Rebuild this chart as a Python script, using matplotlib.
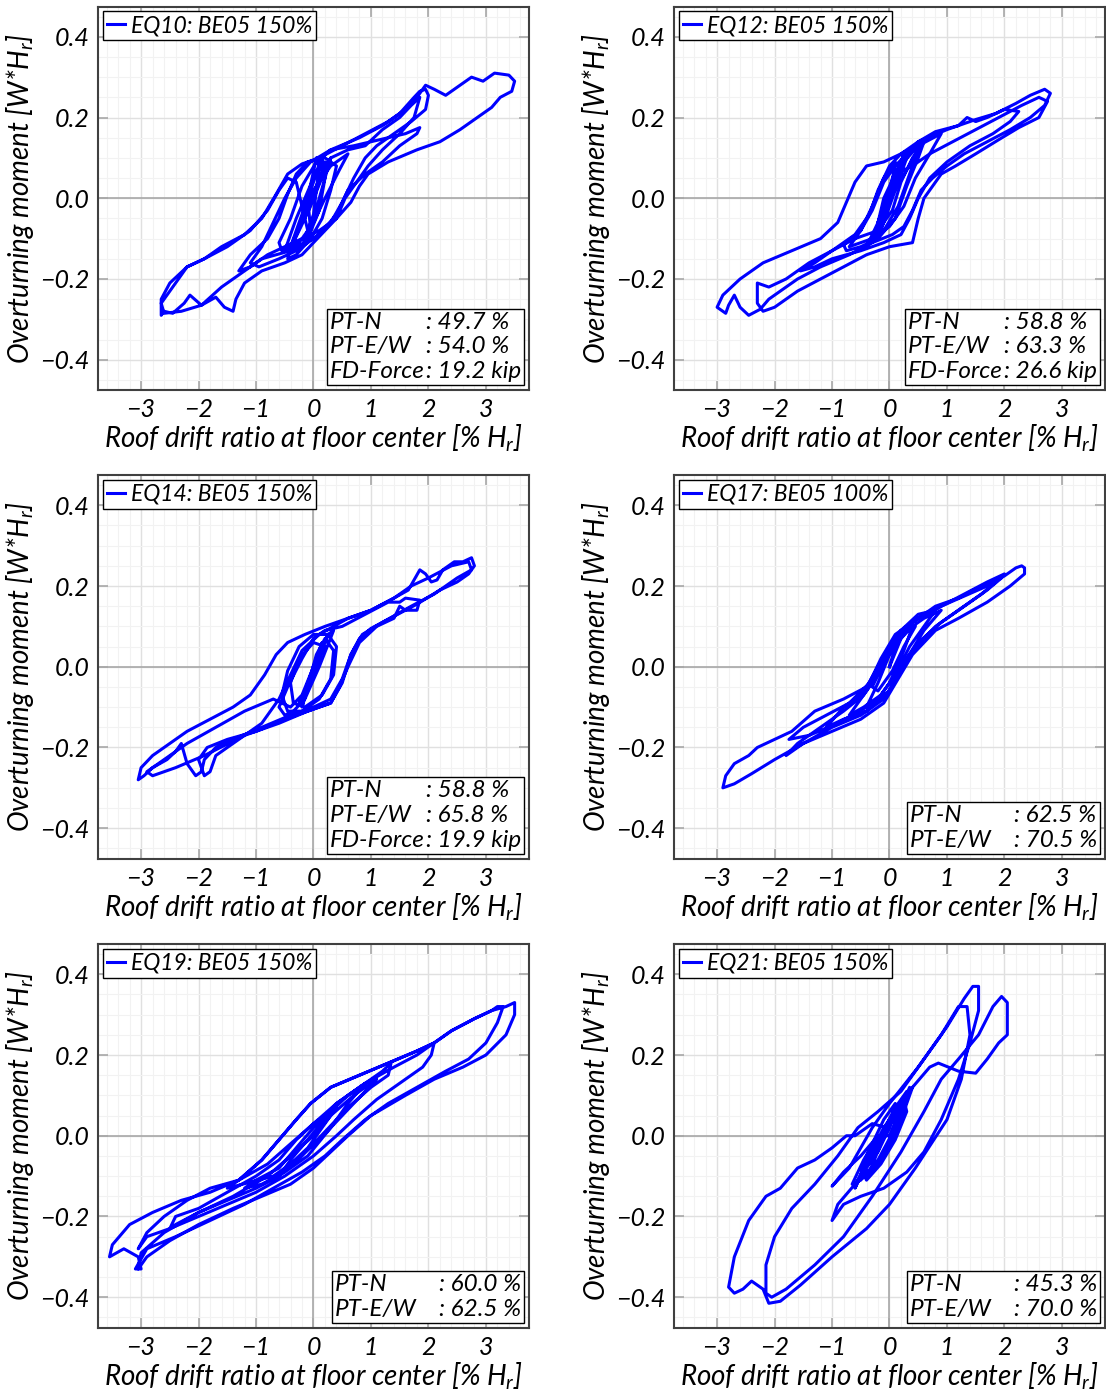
import matplotlib
matplotlib.use("Agg")
import matplotlib.pyplot as plt
from matplotlib.offsetbox import AnchoredOffsetbox, HPacker, TextArea
from matplotlib.ticker import FuncFormatter, MultipleLocator

# --- data (drift ratio [% Hr], moment [W*Hr]) ---
EQ10_LOOP = [
    (0.00, 0.00), (0.15, 0.06), (0.25, 0.09), (0.10, 0.05), (-0.10, -0.03), (-0.30, -0.09),
    (-0.20, -0.06), (0.05, 0.03), (0.30, 0.10), (0.20, 0.07), (-0.05, -0.02), (-0.35, -0.11),
    (-0.45, -0.13), (-0.30, -0.09), (0.00, 0.02), (0.30, 0.08), (0.60, 0.11), (0.45, 0.07),
    (0.20, 0.00), (0.00, -0.06), (-0.25, -0.11), (-0.55, -0.13), (-0.60, -0.11), (-0.40, -0.05),
    (-0.20, 0.03), (0.05, 0.09), (0.30, 0.12), (0.70, 0.13), (1.00, 0.14), (1.30, 0.15),
    (1.60, 0.16), (1.85, 0.175), (1.80, 0.16), (1.50, 0.13), (1.20, 0.09), (0.90, 0.06),
    (0.60, 0.02), (0.40, -0.04), (0.10, -0.09), (-0.30, -0.13), (-0.60, -0.15), (-0.95, -0.17),
    (-1.10, -0.16), (-0.90, -0.12), (-0.70, -0.06), (-0.50, 0.00), (-0.30, 0.05), (-0.05, 0.09),
    (0.30, 0.12), (0.80, 0.15), (1.20, 0.18), (1.50, 0.21), (1.75, 0.25), (1.85, 0.265),
    (1.95, 0.27), (2.00, 0.255), (1.95, 0.22), (1.70, 0.19), (1.40, 0.16), (1.10, 0.13),
    (0.90, 0.10), (0.70, 0.05), (0.50, -0.01), (0.30, -0.06), (0.00, -0.10), (-0.40, -0.13),
    (-0.90, -0.15), (-1.30, -0.19), (-1.60, -0.22), (-1.95, -0.265), (-2.30, -0.28), (-2.60, -0.285),
    (-2.65, -0.26), (-2.45, -0.22), (-2.20, -0.17), (-1.90, -0.15), (-1.60, -0.12), (-1.20, -0.09),
    (-0.90, -0.05), (-0.65, 0.01), (-0.45, 0.06), (-0.20, 0.085), (0.10, 0.10), (0.50, 0.13),
    (0.90, 0.16), (1.30, 0.19), (1.60, 0.22), (1.80, 0.25), (1.95, 0.28), (2.10, 0.27),
    (2.30, 0.255), (2.55, 0.28), (2.75, 0.30), (2.95, 0.29), (3.15, 0.31), (3.40, 0.305),
    (3.50, 0.29), (3.45, 0.265), (3.25, 0.25), (3.10, 0.225), (2.85, 0.20), (2.55, 0.17),
    (2.20, 0.14), (1.80, 0.12), (1.30, 0.09), (0.95, 0.06), (0.80, 0.03), (0.65, -0.01),
    (0.40, -0.05), (0.20, -0.08), (0.00, -0.11), (-0.20, -0.14), (-0.50, -0.16), (-0.90, -0.18),
    (-1.20, -0.21), (-1.35, -0.25), (-1.40, -0.28), (-1.55, -0.27), (-1.70, -0.245), (-1.95, -0.265),
    (-2.15, -0.24), (-2.25, -0.26), (-2.45, -0.285), (-2.60, -0.28), (-2.65, -0.29), (-2.65, -0.25),
    (-2.50, -0.21), (-2.20, -0.17), (-1.90, -0.15), (-1.50, -0.12), (-1.10, -0.08), (-0.80, -0.03),
    (-0.60, 0.02), (-0.45, 0.05), (-0.30, 0.04), (-0.20, -0.02), (-0.10, -0.08), (0.00, -0.10),
    (-0.30, -0.12), (-0.50, -0.13), (-0.30, -0.05), (0.00, 0.05), (0.15, 0.10), (0.20, 0.05),
    (0.10, -0.03), (-0.10, -0.10), (-0.20, -0.12), (0.00, -0.04), (0.10, 0.08), (0.05, 0.10),
    (-0.10, 0.00), (-0.05, -0.08), (0.10, 0.00), (0.30, 0.10), (0.60, 0.12), (0.90, 0.13),
    (1.20, 0.17), (1.50, 0.20), (1.70, 0.23), (1.85, 0.25), (1.75, 0.20), (1.50, 0.16),
    (1.20, 0.12), (0.95, 0.08), (0.75, 0.04), (0.55, 0.00), (0.40, -0.05), (0.10, -0.08),
    (-0.20, -0.10), (-0.50, -0.12), (-0.80, -0.14), (-1.10, -0.17), (-1.30, -0.18), (-1.10, -0.14),
    (-0.80, -0.10), (-0.60, -0.05), (-0.45, 0.01), (-0.30, 0.06), (-0.10, 0.09), (0.20, 0.10),
    (0.40, 0.08), (0.30, 0.02), (0.15, -0.05), (-0.05, -0.10), (-0.30, -0.14), (-0.45, -0.15),
    (-0.35, -0.10), (-0.15, -0.02), (0.05, 0.06), (0.20, 0.09), (0.00, 0.00),
]

EQ12_LOOP = [
    (0.00, 0.00), (0.10, 0.05), (0.05, 0.02), (-0.10, -0.05), (-0.20, -0.10), (-0.10, -0.06),
    (0.10, 0.04), (0.20, 0.08), (0.30, 0.10), (0.15, 0.04), (-0.10, -0.06), (-0.30, -0.11),
    (-0.20, -0.07), (0.00, 0.02), (0.20, 0.09), (0.40, 0.12), (0.60, 0.14), (0.50, 0.10),
    (0.30, 0.03), (0.10, -0.05), (-0.20, -0.10), (-0.50, -0.12), (-0.75, -0.13), (-0.80, -0.115),
    (-0.50, -0.08), (-0.30, -0.03), (-0.10, 0.04), (0.10, 0.08), (0.50, 0.14), (1.00, 0.17),
    (1.20, 0.18), (1.35, 0.20), (1.50, 0.19), (1.70, 0.20), (1.85, 0.21), (2.00, 0.22),
    (2.25, 0.215), (2.10, 0.19), (1.80, 0.16), (1.40, 0.13), (1.00, 0.09), (0.70, 0.05),
    (0.50, 0.00), (0.35, -0.05), (0.20, -0.09), (-0.10, -0.11), (-0.50, -0.13), (-1.00, -0.15),
    (-1.30, -0.17), (-1.55, -0.18), (-1.30, -0.16), (-0.90, -0.12), (-0.60, -0.09), (-0.35, -0.04),
    (-0.20, 0.02), (0.00, 0.08), (0.20, 0.11), (0.50, 0.14), (0.80, 0.165), (1.20, 0.18),
    (1.50, 0.195), (1.85, 0.21), (2.20, 0.235), (2.45, 0.255), (2.70, 0.27), (2.80, 0.26),
    (2.70, 0.23), (2.45, 0.20), (2.10, 0.17), (1.70, 0.14), (1.30, 0.11), (1.00, 0.08),
    (0.75, 0.05), (0.55, 0.02), (0.40, -0.03), (0.25, -0.07), (0.05, -0.09), (-0.30, -0.11),
    (-0.70, -0.14), (-1.20, -0.17), (-1.60, -0.20), (-1.90, -0.23), (-2.10, -0.25), (-2.25, -0.275),
    (-2.45, -0.29), (-2.60, -0.27), (-2.70, -0.24), (-2.80, -0.265), (-2.85, -0.285), (-3.00, -0.27),
    (-2.90, -0.24), (-2.60, -0.20), (-2.20, -0.16), (-1.70, -0.13), (-1.20, -0.10), (-0.90, -0.06),
    (-0.75, -0.01), (-0.60, 0.04), (-0.40, 0.08), (-0.10, 0.09), (0.20, 0.11), (0.60, 0.14),
    (0.40, 0.10), (0.20, 0.04), (0.05, -0.03), (-0.20, -0.08), (-0.60, -0.10), (-1.00, -0.13),
    (-1.40, -0.16), (-1.80, -0.20), (-2.10, -0.22), (-2.30, -0.21), (-2.30, -0.26), (-2.20, -0.28),
    (-2.00, -0.27), (-1.60, -0.23), (-1.20, -0.20), (-0.80, -0.17), (-0.40, -0.14), (0.00, -0.12),
    (0.40, -0.11), (0.50, -0.05), (0.60, 0.00), (0.75, 0.03), (0.90, 0.06), (1.15, 0.08),
    (1.50, 0.11), (1.90, 0.145), (2.25, 0.175), (2.60, 0.20), (2.75, 0.24), (2.60, 0.25),
    (2.30, 0.23), (1.90, 0.20), (1.50, 0.17), (1.10, 0.14), (0.70, 0.11), (0.40, 0.08),
    (0.10, 0.06), (-0.10, 0.00), (-0.20, -0.06), (-0.05, 0.00), (0.15, 0.07), (0.25, 0.11),
    (0.10, 0.03), (-0.15, -0.07), (-0.05, -0.02), (0.20, 0.09), (0.05, 0.05), (-0.10, -0.04),
    (0.00, 0.00), (0.30, 0.07), (0.50, 0.12), (0.35, 0.06), (0.15, -0.02), (-0.10, -0.08),
    (-0.40, -0.12), (-0.20, -0.06), (0.00, 0.02), (0.25, 0.09), (0.50, 0.13), (0.90, 0.16),
    (0.70, 0.11), (0.45, 0.05), (0.25, -0.02), (0.00, -0.07), (-0.30, -0.10), (-0.70, -0.12),
    (-0.50, -0.08), (-0.30, -0.02), (-0.10, 0.05), (0.10, 0.09), (0.00, 0.00),
]

EQ14_LOOP = [
    (0.00, 0.00), (0.15, 0.05), (0.25, 0.08), (0.10, 0.02), (-0.10, -0.05), (-0.25, -0.09),
    (-0.15, -0.06), (0.05, 0.02), (0.25, 0.08), (0.35, 0.09), (0.10, 0.00), (-0.15, -0.08),
    (-0.35, -0.11), (-0.50, -0.12), (-0.60, -0.10), (-0.45, -0.05), (-0.20, 0.02), (0.00, 0.07),
    (0.20, 0.09), (0.50, 0.10), (0.90, 0.13), (1.30, 0.16), (1.50, 0.16), (1.60, 0.17),
    (1.85, 0.165), (1.80, 0.14), (1.60, 0.14), (1.50, 0.15), (1.40, 0.12), (1.10, 0.10),
    (0.80, 0.06), (0.60, 0.00), (0.45, -0.05), (0.30, -0.09), (-0.10, -0.11), (-0.50, -0.13),
    (-1.00, -0.16), (-1.50, -0.18), (-1.85, -0.20), (-2.00, -0.23), (-1.90, -0.27), (-1.80, -0.26),
    (-1.70, -0.22), (-1.30, -0.18), (-0.90, -0.14), (-0.60, -0.08), (-0.40, -0.02), (-0.20, 0.04),
    (0.10, 0.08), (0.60, 0.12), (1.00, 0.14), (1.40, 0.17), (1.65, 0.19), (1.85, 0.24),
    (1.95, 0.23), (2.05, 0.21), (2.15, 0.215), (2.25, 0.24), (2.45, 0.26), (2.60, 0.26),
    (2.75, 0.27), (2.80, 0.25), (2.70, 0.23), (2.50, 0.21), (2.20, 0.19), (1.80, 0.155),
    (1.40, 0.125), (1.00, 0.095), (0.80, 0.07), (0.65, 0.03), (0.50, -0.03), (0.30, -0.08),
    (0.00, -0.10), (-0.40, -0.12), (-0.90, -0.15), (-1.40, -0.18), (-1.70, -0.20), (-1.90, -0.23),
    (-1.95, -0.26), (-2.05, -0.27), (-2.20, -0.24), (-2.30, -0.19), (-2.40, -0.21), (-2.55, -0.23),
    (-2.80, -0.25), (-2.95, -0.27), (-3.05, -0.28), (-3.00, -0.25), (-2.80, -0.22), (-2.50, -0.19),
    (-2.20, -0.16), (-1.80, -0.13), (-1.40, -0.10), (-1.10, -0.07), (-0.85, -0.02), (-0.65, 0.03),
    (-0.45, 0.06), (-0.15, 0.08), (0.20, 0.10), (0.60, 0.12), (1.00, 0.14), (1.40, 0.17),
    (1.70, 0.20), (2.00, 0.22), (2.40, 0.25), (2.70, 0.26), (2.75, 0.24), (2.50, 0.22),
    (2.10, 0.18), (1.70, 0.15), (1.20, 0.11), (0.85, 0.08), (0.65, 0.03), (0.50, -0.04),
    (0.30, -0.09), (-0.10, -0.11), (-0.60, -0.14), (-1.20, -0.17), (-1.90, -0.22), (-2.40, -0.25),
    (-2.80, -0.27), (-2.90, -0.26), (-2.60, -0.23), (-2.20, -0.19), (-1.70, -0.15), (-1.20, -0.11),
    (-0.70, -0.08), (-0.40, -0.10), (-0.20, -0.07), (0.00, 0.00), (0.15, 0.06), (-0.05, -0.03),
    (-0.20, -0.10), (0.05, 0.03), (0.20, 0.07), (0.35, 0.04), (0.30, -0.03), (0.10, -0.08),
    (-0.20, -0.11), (-0.45, -0.11), (-0.55, -0.07), (-0.45, -0.01), (-0.25, 0.05), (0.00, 0.08),
    (0.25, 0.08), (0.40, 0.05), (0.35, -0.02), (0.15, -0.07), (-0.15, -0.10), (-0.35, -0.09),
    (-0.40, -0.04), (-0.25, 0.02), (0.00, 0.06), (0.20, 0.05), (0.00, 0.00),
]

EQ17_LOOP = [
    (0.00, 0.00), (0.20, 0.07), (0.40, 0.10), (0.25, 0.04), (0.00, -0.04), (-0.20, -0.08),
    (-0.40, -0.10), (-0.20, -0.04), (0.00, 0.03), (0.30, 0.09), (0.60, 0.12), (0.90, 0.14),
    (0.60, 0.09), (0.30, 0.02), (0.00, -0.06), (-0.40, -0.11), (-0.80, -0.13), (-1.10, -0.15),
    (-0.80, -0.10), (-0.40, -0.06), (-0.15, 0.00), (0.10, 0.07), (0.40, 0.11), (0.80, 0.15),
    (1.20, 0.17), (1.60, 0.20), (1.95, 0.22), (1.70, 0.19), (1.30, 0.15), (0.90, 0.11),
    (0.50, 0.06), (0.20, 0.00), (0.00, -0.06), (-0.40, -0.10), (-0.90, -0.14), (-1.40, -0.17),
    (-1.75, -0.18), (-1.50, -0.15), (-1.10, -0.12), (-0.70, -0.09), (-0.35, -0.04), (-0.15, 0.02),
    (0.10, 0.08), (0.50, 0.12), (0.90, 0.15), (1.30, 0.18), (1.70, 0.21), (2.00, 0.23),
    (1.85, 0.21), (1.60, 0.18), (1.20, 0.14), (0.80, 0.10), (0.40, 0.04), (0.15, -0.02),
    (-0.10, -0.08), (-0.50, -0.12), (-1.00, -0.15), (-1.50, -0.19), (-1.80, -0.22), (-1.60, -0.19),
    (-1.20, -0.15), (-0.80, -0.11), (-0.45, -0.07), (-0.20, -0.01), (0.00, 0.05), (0.20, 0.09),
    (0.50, 0.12), (0.90, 0.15), (1.30, 0.175), (1.70, 0.20), (2.00, 0.225), (2.20, 0.245),
    (2.30, 0.25), (2.35, 0.245), (2.35, 0.23), (2.10, 0.20), (1.70, 0.16), (1.20, 0.12),
    (0.80, 0.09), (0.40, 0.03), (0.15, -0.03), (-0.10, -0.09), (-0.50, -0.13), (-1.00, -0.16),
    (-1.50, -0.19), (-2.00, -0.23), (-2.40, -0.265), (-2.70, -0.29), (-2.90, -0.30), (-2.85, -0.27),
    (-2.70, -0.24), (-2.45, -0.22), (-2.30, -0.20), (-2.00, -0.18), (-1.70, -0.16), (-1.30, -0.11),
    (-0.80, -0.08), (-0.40, -0.05), (-0.20, 0.00), (0.00, 0.05), (0.20, 0.09), (0.50, 0.13),
    (0.80, 0.14), (0.60, 0.10), (0.35, 0.05), (0.10, -0.02), (-0.15, -0.07), (-0.45, -0.10),
    (-0.70, -0.12), (-0.50, -0.08), (-0.25, -0.03), (-0.05, 0.03), (0.20, 0.08), (0.45, 0.10),
    (0.25, 0.05), (0.05, -0.01), (-0.20, -0.06), (-0.30, -0.05), (-0.10, 0.01), (0.10, 0.05),
    (0.00, 0.00),
]

EQ19_LOOP = [
    (0.00, 0.00), (0.20, 0.04), (0.40, 0.07), (0.20, 0.03), (-0.10, -0.03), (-0.40, -0.07),
    (-0.60, -0.10), (-0.40, -0.06), (-0.10, -0.01), (0.30, 0.06), (0.60, 0.10), (0.90, 0.13),
    (0.60, 0.08), (0.30, 0.02), (-0.10, -0.05), (-0.50, -0.09), (-0.90, -0.12), (-1.20, -0.13),
    (-1.00, -0.11), (-0.60, -0.08), (-0.30, -0.03), (0.00, 0.02), (0.40, 0.08), (0.80, 0.12),
    (1.20, 0.16), (1.35, 0.18), (1.30, 0.15), (1.00, 0.12), (0.60, 0.07), (0.20, 0.01),
    (-0.20, -0.05), (-0.60, -0.10), (-1.00, -0.13), (-1.50, -0.16), (-2.00, -0.19), (-2.40, -0.22),
    (-2.50, -0.23), (-2.40, -0.20), (-2.00, -0.18), (-1.50, -0.14), (-1.00, -0.10), (-0.60, -0.06),
    (-0.30, -0.01), (0.00, 0.03), (0.40, 0.08), (0.90, 0.13), (1.40, 0.17), (1.80, 0.20),
    (2.10, 0.23), (2.05, 0.20), (1.90, 0.17), (1.60, 0.14), (1.10, 0.09), (0.70, 0.04),
    (0.40, 0.00), (0.00, -0.05), (-0.50, -0.10), (-1.00, -0.14), (-1.50, -0.17), (-2.00, -0.20),
    (-2.50, -0.23), (-2.90, -0.25), (-3.05, -0.28), (-2.90, -0.24), (-2.60, -0.20), (-2.20, -0.16),
    (-1.80, -0.13), (-1.30, -0.11), (-0.90, -0.06), (-0.60, -0.01), (-0.30, 0.04), (-0.05, 0.08),
    (0.30, 0.12), (0.80, 0.15), (1.30, 0.18), (1.80, 0.21), (2.10, 0.23), (2.40, 0.26),
    (2.80, 0.29), (3.10, 0.31), (3.20, 0.32), (3.30, 0.32), (3.20, 0.28), (3.00, 0.23),
    (2.70, 0.19), (2.30, 0.16), (1.80, 0.12), (1.30, 0.08), (0.90, 0.04), (0.50, -0.01),
    (0.20, -0.05), (-0.20, -0.09), (-0.70, -0.13), (-1.20, -0.17), (-1.80, -0.21), (-2.40, -0.25),
    (-2.90, -0.28), (-3.10, -0.33), (-3.00, -0.33), (-3.05, -0.30), (-3.30, -0.28), (-3.55, -0.30),
    (-3.50, -0.27), (-3.20, -0.22), (-2.80, -0.19), (-2.30, -0.16), (-1.80, -0.14), (-1.30, -0.11),
    (-0.90, -0.06), (-0.60, -0.01), (-0.30, 0.04), (-0.05, 0.08), (0.30, 0.12), (0.80, 0.15),
    (1.30, 0.18), (1.80, 0.21), (2.10, 0.23), (2.40, 0.26), (2.80, 0.29), (3.10, 0.31),
    (3.35, 0.32), (3.50, 0.33), (3.50, 0.30), (3.35, 0.25), (3.00, 0.20), (2.60, 0.17),
    (2.10, 0.14), (1.60, 0.10), (1.00, 0.05), (0.60, 0.00), (0.30, -0.04), (0.00, -0.08),
    (-0.40, -0.12), (-0.90, -0.15), (-1.40, -0.18), (-2.00, -0.22), (-2.50, -0.26), (-2.90, -0.30),
    (-3.05, -0.33), (-3.00, -0.29), (-2.60, -0.24), (-2.00, -0.19), (-1.40, -0.15), (-0.80, -0.10),
    (-0.40, -0.05), (0.00, 0.00), (0.30, 0.05), (0.70, 0.10), (1.10, 0.14), (0.90, 0.11),
    (0.50, 0.05), (0.10, -0.01), (-0.30, -0.06), (-0.70, -0.10), (-1.50, -0.13), (-1.30, -0.11),
    (-0.80, -0.07), (-0.40, -0.02), (0.00, 0.03), (0.30, 0.06), (0.10, 0.02), (0.00, 0.00),
]

EQ21_LOOP = [
    (0.00, 0.00), (0.20, 0.07), (0.35, 0.12), (0.25, 0.06), (0.00, -0.03), (-0.30, -0.08),
    (-0.50, -0.10), (-0.30, -0.04), (0.00, 0.04), (0.30, 0.10), (0.40, 0.12), (0.20, 0.04),
    (-0.10, -0.05), (-0.40, -0.10), (-0.55, -0.11), (-0.35, -0.05), (-0.10, 0.02), (0.20, 0.08),
    (0.35, 0.11), (0.10, 0.02), (-0.20, -0.06), (-0.50, -0.11), (-0.65, -0.12), (-0.45, -0.06),
    (-0.20, 0.00), (-0.50, -0.05), (-0.80, -0.09), (-1.00, -0.125), (-0.70, -0.08), (-0.50, -0.03),
    (-0.30, 0.02), (0.00, 0.08), (0.50, 0.17), (1.00, 0.27), (1.30, 0.34), (1.45, 0.37),
    (1.55, 0.37), (1.55, 0.31), (1.40, 0.23), (1.20, 0.14), (0.90, 0.04), (0.60, -0.04),
    (0.30, -0.09), (-0.10, -0.13), (-0.50, -0.15), (-0.80, -0.17), (-1.00, -0.21), (-0.90, -0.17),
    (-0.60, -0.12), (-0.30, -0.06), (-0.05, 0.02), (-0.30, 0.03), (-0.60, 0.00), (-0.75, 0.00),
    (-1.00, -0.03), (-1.30, -0.06), (-1.60, -0.08), (-1.90, -0.13), (-2.15, -0.15), (-2.45, -0.21),
    (-2.70, -0.30), (-2.80, -0.375), (-2.70, -0.39), (-2.55, -0.38), (-2.40, -0.36), (-2.20, -0.38),
    (-2.10, -0.415), (-1.90, -0.41), (-1.55, -0.37), (-1.00, -0.30), (-0.40, -0.23), (0.00, -0.17),
    (0.45, -0.08), (1.00, 0.04), (1.25, 0.14), (1.40, 0.25), (1.35, 0.32), (1.20, 0.32),
    (0.90, 0.25), (0.60, 0.19), (0.20, 0.11), (-0.20, 0.06), (-0.55, 0.02), (-0.90, -0.05),
    (-1.30, -0.12), (-1.70, -0.18), (-2.00, -0.25), (-2.15, -0.32), (-2.15, -0.39), (-2.05, -0.40),
    (-1.80, -0.38), (-1.30, -0.32), (-0.80, -0.25), (-0.30, -0.15), (0.20, -0.04), (0.60, 0.06),
    (0.90, 0.14), (1.20, 0.19), (1.55, 0.25), (1.80, 0.32), (1.95, 0.345), (2.05, 0.33),
    (2.05, 0.25), (1.90, 0.23), (1.70, 0.19), (1.50, 0.155), (1.20, 0.16), (0.85, 0.18),
    (0.70, 0.17), (0.40, 0.12), (0.10, 0.05), (-0.20, -0.03), (-0.45, -0.08), (-0.60, -0.13),
    (-0.40, -0.07), (-0.15, 0.00), (0.10, 0.07), (0.30, 0.11), (0.15, 0.04), (-0.10, -0.05),
    (-0.35, -0.09), (-0.15, -0.02), (0.05, 0.04), (0.25, 0.09), (0.30, 0.06), (0.10, -0.01),
    (-0.15, -0.07), (-0.40, -0.11), (-0.50, -0.08), (-0.30, -0.02), (-0.10, 0.04), (0.10, 0.08),
    (0.00, 0.02), (-0.20, -0.04), (-0.35, -0.06), (-0.15, 0.00), (0.00, 0.00),
]

LEGEND_LABELS = ["EQ10: BE05 150%", "EQ12: BE05 150%", "EQ14: BE05 150%",
                 "EQ17: BE05 100%", "EQ19: BE05 150%", "EQ21: BE05 150%"]
PT_N = ["49.7 %", "58.8 %", "58.8 %", "62.5 %", "60.0 %", "45.3 %"]
PT_EW = ["54.0 %", "63.3 %", "65.8 %", "70.5 %", "62.5 %", "70.0 %"]
FD_FORCE = ["19.2 kip", "26.6 kip", "19.9 kip", None, None, None]
LOOPS = [EQ10_LOOP, EQ12_LOOP, EQ14_LOOP, EQ17_LOOP, EQ19_LOOP, EQ21_LOOP]

FIG_W, FIG_H = 1106, 1395
AX_LEFTS = [98, 674]
AX_TOPS = [6.5, 475, 944]
AX_W, AX_H = 431, 383.5
LABEL_FS = 20
TICK_FS = 18
LEGEND_FS = 16.5
BOX_FS = 17.5

plt.rcParams["font.family"] = ["Lato", "DejaVu Sans"]
plt.rcParams["font.style"] = "italic"
plt.rcParams["mathtext.fontset"] = "custom"
plt.rcParams["mathtext.it"] = "Lato:italic"
plt.rcParams["mathtext.rm"] = "Lato:italic"


def tick_text(v, _pos, fmt):
    s = fmt.format(0.0 if abs(v) < 1e-9 else v)
    return s.replace("-", "\u2212")


def info_box(ax, i):
    names = ["PT-N", "PT-E/W"]
    values = [": " + PT_N[i], ": " + PT_EW[i]]
    sep = 16
    if FD_FORCE[i] is not None:
        names.append("FD-Force")
        values.append(": " + FD_FORCE[i])
        sep = 1
    props = dict(fontsize=BOX_FS, style="italic", linespacing=1.22)
    pack = HPacker(children=[TextArea("\n".join(names), textprops=props),
                             TextArea("\n".join(values), textprops=props)],
                   align="top", pad=0, sep=sep)
    box = AnchoredOffsetbox(loc="lower right", child=pack, pad=0.22, borderpad=0.35,
                            frameon=True)
    box.patch.set_edgecolor("black")
    box.patch.set_linewidth(1.0)
    ax.add_artist(box)


def draw_panel(ax, i):
    xs = [p[0] for p in LOOPS[i]]
    ys = [p[1] for p in LOOPS[i]]
    ax.axhline(0, color="#a8a8a8", lw=1.2, zorder=1)
    ax.axvline(0, color="#a8a8a8", lw=1.2, zorder=1)
    ax.plot(xs, ys, color="#0000ff", lw=2.2, solid_joinstyle="round", zorder=3,
            label=LEGEND_LABELS[i])

    ax.set_xlim(-3.75, 3.75)
    ax.set_ylim(-0.475, 0.475)
    ax.xaxis.set_major_locator(MultipleLocator(1))
    ax.xaxis.set_minor_locator(MultipleLocator(0.2))
    ax.yaxis.set_major_locator(MultipleLocator(0.2))
    ax.yaxis.set_minor_locator(MultipleLocator(0.05))
    ax.xaxis.set_major_formatter(FuncFormatter(lambda v, p: tick_text(v, p, "{:.0f}")))
    ax.yaxis.set_major_formatter(FuncFormatter(lambda v, p: tick_text(v, p, "{:.1f}")))
    ax.grid(which="major", color="#e0e0e0", lw=1.0, zorder=0)
    ax.grid(which="minor", color="#f2f2f2", lw=0.8, zorder=0)
    ax.set_axisbelow(True)
    ax.tick_params(which="major", direction="in", length=7, width=1.2, color="#a8a8a8",
                   top=True, right=True, labelsize=TICK_FS, pad=6)
    ax.tick_params(which="minor", length=0)
    for sp in ax.spines.values():
        sp.set_color("#404040")
        sp.set_linewidth(1.5)

    ax.set_xlabel("Roof drift ratio at floor center [% $H_r$]", fontsize=LABEL_FS, labelpad=1)
    ax.set_ylabel("Overturning moment [W*$H_r$]", fontsize=LABEL_FS, labelpad=3)

    leg = ax.legend(loc="upper left", handlelength=0.8, handletextpad=0.25, borderpad=0.18,
                    borderaxespad=0.2, fancybox=False, framealpha=1, edgecolor="black",
                    fontsize=LEGEND_FS)
    leg.get_frame().set_linewidth(1.0)
    info_box(ax, i)


def main() -> None:
    fig = plt.figure(figsize=(FIG_W / 100, FIG_H / 100), dpi=100)
    for i in range(6):
        row, col = divmod(i, 2)
        rect = [AX_LEFTS[col] / FIG_W, 1 - (AX_TOPS[row] + AX_H) / FIG_H,
                AX_W / FIG_W, AX_H / FIG_H]
        ax = fig.add_axes(rect)
        draw_panel(ax, i)
    fig.savefig("out.png", dpi=100)
    plt.close(fig)


if __name__ == "__main__":
    main()
